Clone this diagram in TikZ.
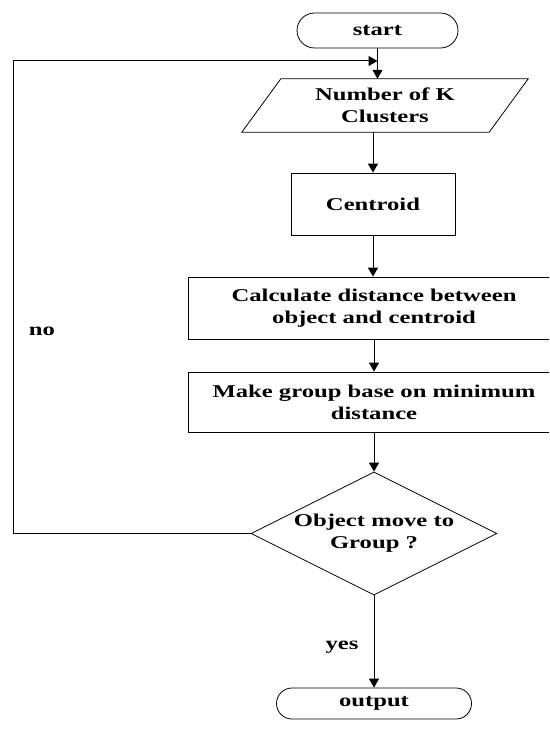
\documentclass[tikz,border=0pt]{standalone}
\usepackage{fontspec}
\setmainfont{Liberation Serif}[FakeStretch=1.37]
\usetikzlibrary{shapes.geometric,arrows.meta}
\begin{document}
\begin{tikzpicture}[x=1pt,y=-1pt,
  every node/.style={font=\fontsize{18}{22}\selectfont\bfseries, align=center, inner sep=0pt},
  term/.style={draw, line width=0.8pt},
  proc/.style={draw, line width=0.8pt},
  conn/.style={line width=1pt, -{Triangle[length=9pt,width=10pt]}}]
\useasboundingbox[fill=white] (0,0) rectangle (549,730);
\clip (0,0) rectangle (549,730);

\node[term, minimum width=161pt, minimum height=35pt, rounded corners=17.5pt] (start) at (377.5,30.5) {start};

\node[minimum width=286pt, minimum height=53pt] (para) at (385,105.5) {Number of K\\Clusters};
\draw[proc] ([xshift=39pt]para.north west) -- (para.north east) -- ([xshift=-39pt]para.south east) -- (para.south west) -- cycle;

\node[proc, minimum width=164pt, minimum height=62pt] (cent) at (373,204) {Centroid};
\node[proc, minimum width=372pt, minimum height=62pt] (calc) at (374,308) {Calculate distance between\\object and centroid};
\node[proc, minimum width=372pt, minimum height=60pt] (make) at (374,402) {Make group base on minimum\\distance};
\node[diamond, draw, line width=0.8pt, aspect=2, minimum width=246pt, minimum height=123pt] (dec) at (374,533.5) {Object move to\\Group ?};
\node[term, minimum width=195pt, minimum height=31pt, rounded corners=15.5pt] (out) at (374,703.5) {output};

\node (no) at (42,331) {no};
\node (yes) at (342,647) {yes};

\coordinate (lb) at (13,533.5);
\coordinate (lt) at (13,61);

\draw[conn] (start.south) -- (start.south |- para.north);
\draw[conn] (cent.north |- para.south) -- (cent.north);
\draw[conn] (cent.south) -- (cent.south |- calc.north);
\draw[conn] (calc.south) -- (make.north);
\draw[conn] (make.south) -- (dec.north);
\draw[conn] (dec.south) -- (out.north);
\draw[conn] (dec.west) -- (lb) -- (lt) -- (lt -| start.south);
\end{tikzpicture}
\end{document}
